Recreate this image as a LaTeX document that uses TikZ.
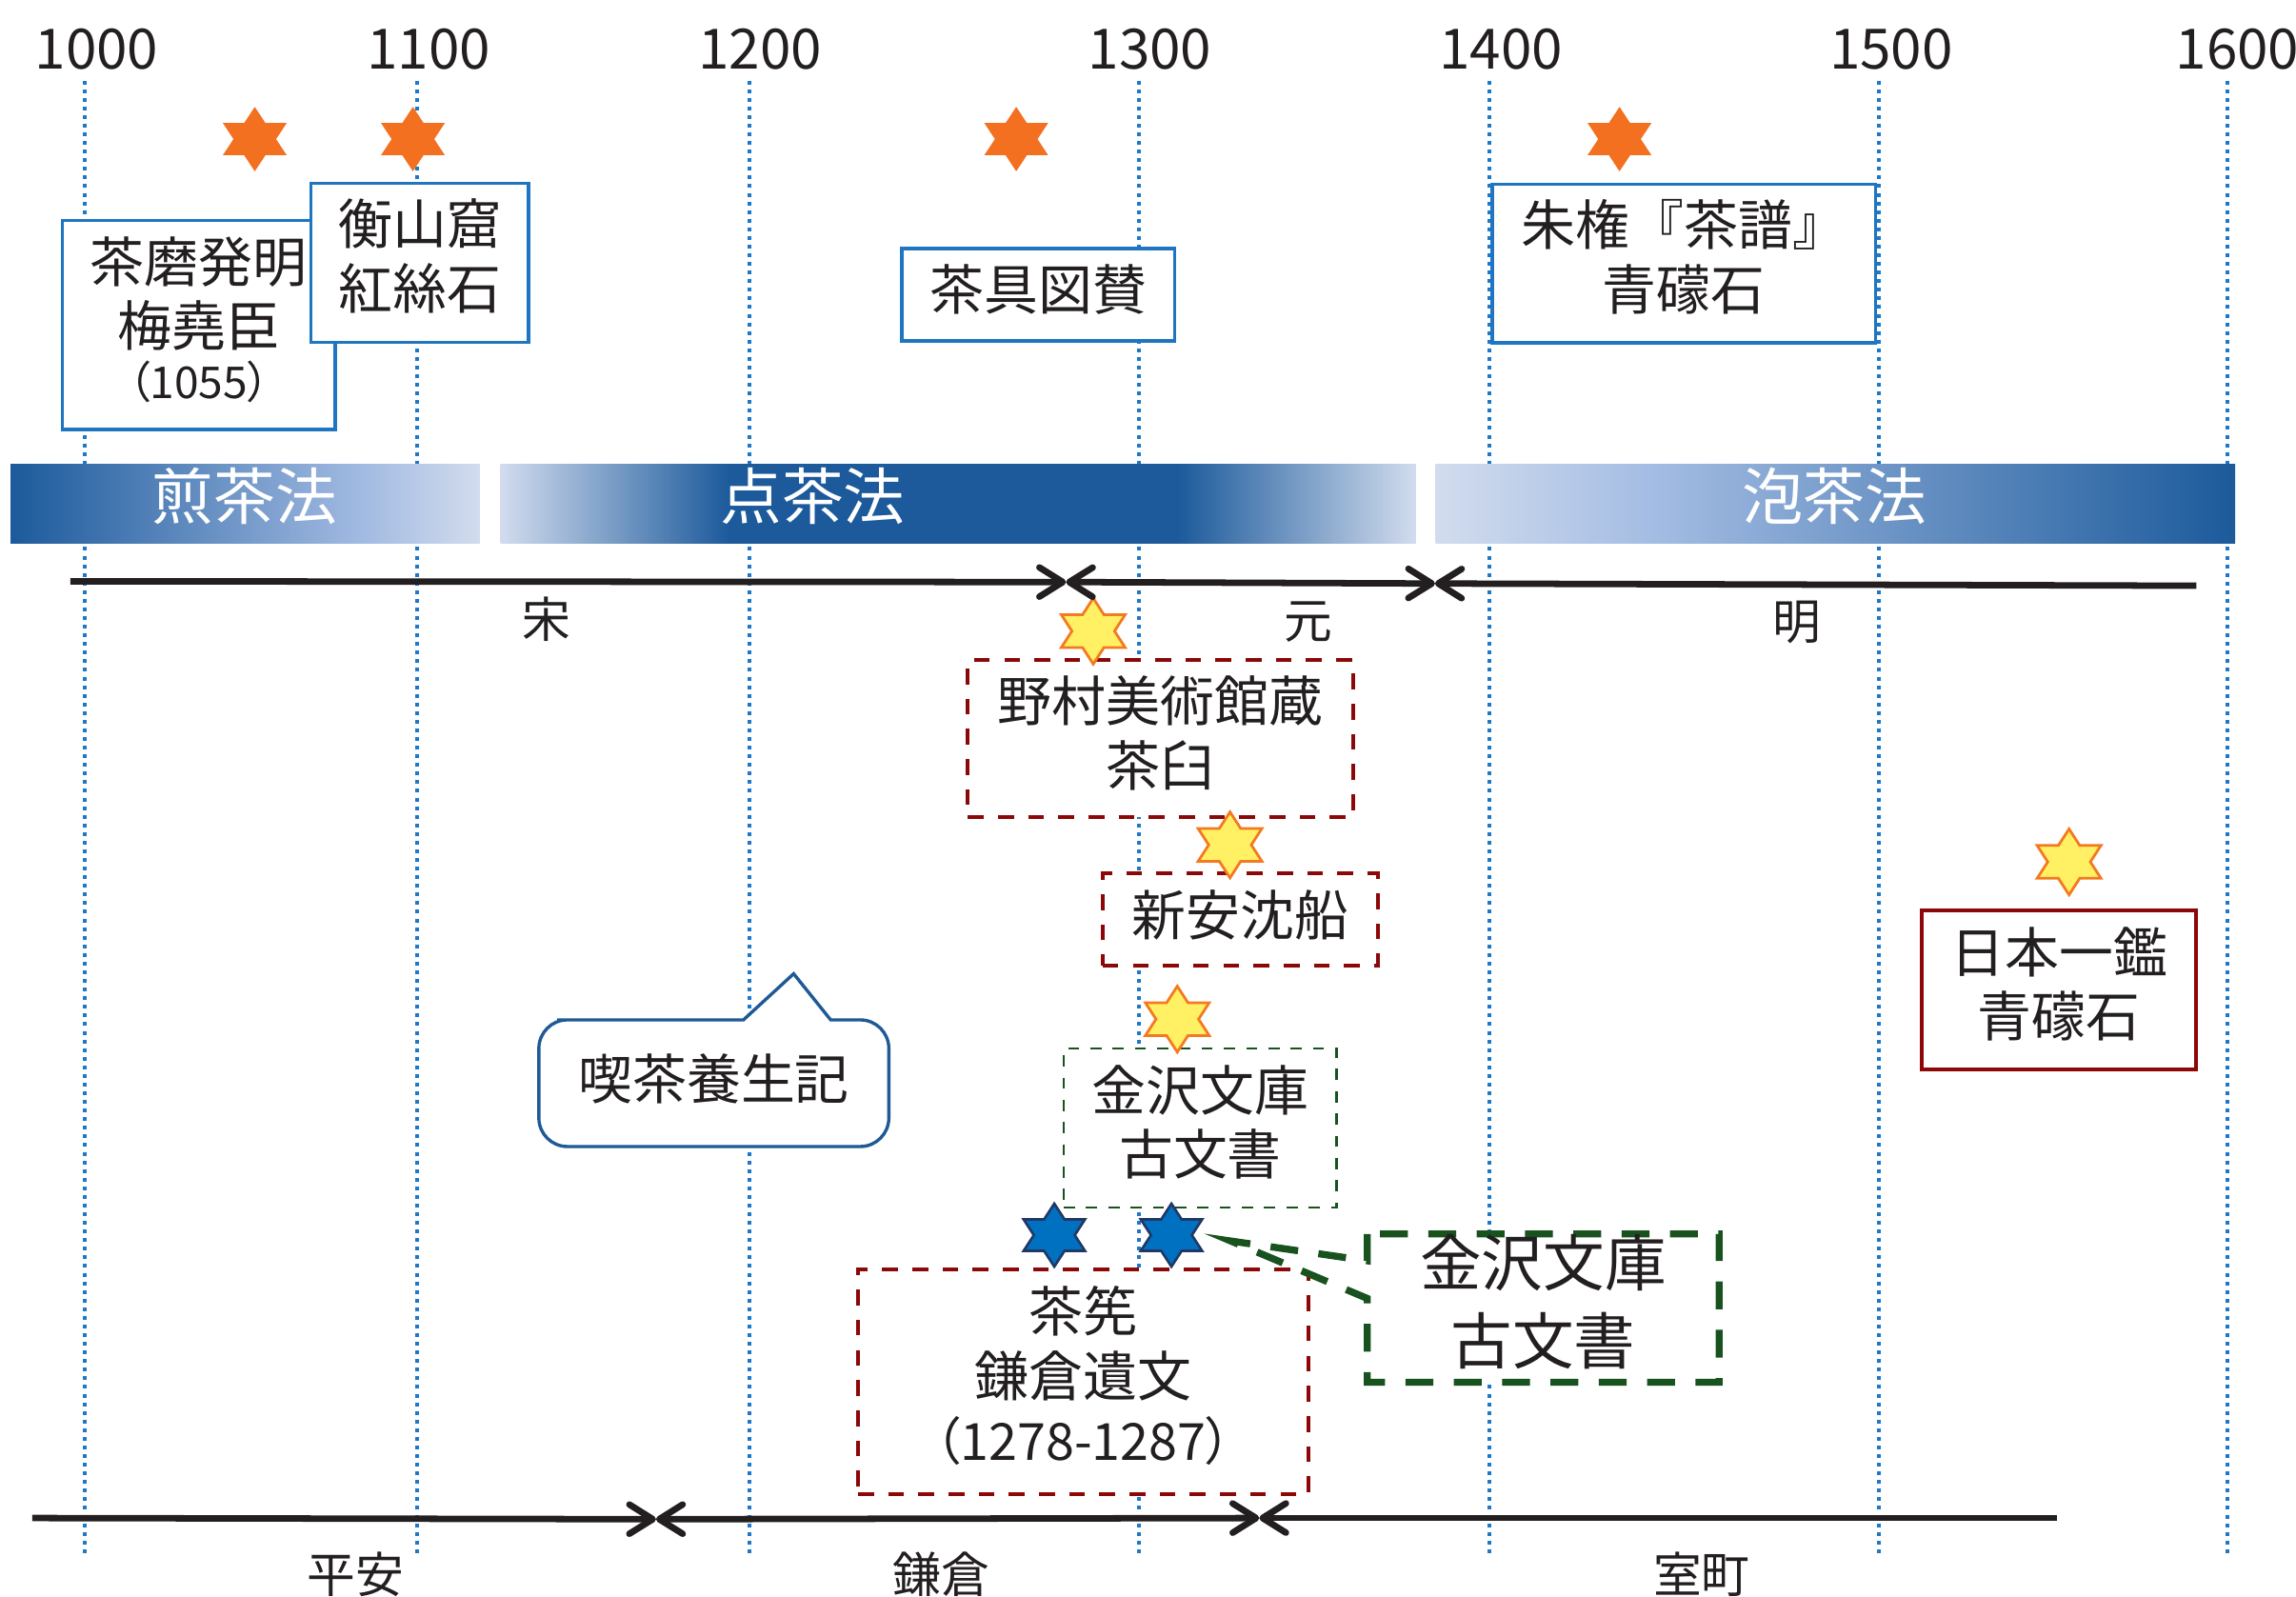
\documentclass[tikz,border=0pt]{standalone}
\usepackage{fontspec}
\setmainfont{Noto Sans CJK JP}
\newfontfamily\jpp[RawFeature={+palt}]{Noto Sans CJK JP}
\usetikzlibrary{arrows.meta}

\definecolor{txt}{RGB}{35,31,32}
\definecolor{gridblue}{RGB}{30,120,200}
\definecolor{boxblue}{RGB}{31,117,192}
\definecolor{callblue}{RGB}{31,90,150}
\definecolor{darkred}{RGB}{140,8,8}
\definecolor{dgreen}{RGB}{24,82,30}
\definecolor{starorange}{RGB}{243,112,33}
\definecolor{staryellow}{RGB}{255,240,100}
\definecolor{staredge}{RGB}{244,121,32}
\definecolor{starblue}{RGB}{0,112,192}
\definecolor{starnavy}{RGB}{32,56,100}
\definecolor{bdark}{RGB}{28,90,155}
\definecolor{bpale}{RGB}{210,220,238}
\definecolor{bmid}{RGB}{160,185,225}
\definecolor{bmidc}{RGB}{166,190,228}

\pgfdeclarehorizontalshading{barA}{100bp}{color(0bp)=(bdark); color(25bp)=(bdark); color(62bp)=(bmid); color(75bp)=(bpale); color(100bp)=(bpale)}
\pgfdeclarehorizontalshading{barB}{100bp}{color(0bp)=(bpale); color(25bp)=(bpale); color(37.5bp)=(bdark); color(62bp)=(bdark); color(75bp)=(bpale); color(100bp)=(bpale)}
\pgfdeclarehorizontalshading{barC}{100bp}{color(0bp)=(bpale); color(25bp)=(bpale); color(38bp)=(bmidc); color(75bp)=(bdark); color(100bp)=(bdark)}

\tikzset{
  hexstar/.pic={\path[pic actions] (90:1) -- (60:0.57735) -- (30:1) -- (0:0.57735) -- (-30:1) -- (-60:0.57735) -- (-90:1) -- (-120:0.57735) -- (-150:1) -- (180:0.57735) -- (150:1) -- (120:0.57735) -- cycle;},
  ostar/.style={fill=starorange, xscale=25.2, yscale=22},
  ystar/.style={fill=staryellow, draw=staredge, line width=1.8, xscale=25.2, yscale=22.5},
  bstar/.style={fill=starblue, draw=starnavy, line width=1.7, xscale=24.2, yscale=21.5},
  gridline/.style={draw=gridblue, line width=2.6, dash pattern=on 2.6pt off 3.3pt},
  yearlbl/.style={text=txt, font=\fontsize{38}{44}\selectfont, inner sep=0},
  bartxt/.style={text=white, font=\fontsize{42}{50}\selectfont, inner sep=0},
  eralbl/.style={text=txt, font=\fontsize{33}{40}\selectfont, inner sep=0},
  boxtxt/.style={text=txt, align=center, font=\fontsize{37}{44}\selectfont, inner sep=0},
  bluebox/.style={draw=boxblue, line width=2.2, fill=white, inner sep=0},
  redbox/.style={draw=darkred, line width=2.6, dash pattern=on 10.8pt off 9.8pt, fill=white, inner sep=0},
  redsolid/.style={draw=darkred, line width=2.4, fill=white, inner sep=0},
  greenthin/.style={draw=dgreen, line width=1.8, dash pattern=on 7.6pt off 7.6pt, fill=white, inner sep=0},
  greenthick/.style={draw=dgreen, line width=4.8, dash pattern=on 19pt off 14pt, fill=white},
  callout/.style={draw=callblue, line width=2.2, fill=white},
  tip/.tip={Straight Barb[length=16pt,width=20pt,line width=4.4pt,round]},
  tl/.style={draw=txt, line width=4.4pt},
}

\begin{document}
\begin{tikzpicture}[x=1pt,y=-1pt]
\useasboundingbox (0,0) rectangle (1568,1090);
\clip (0,0) rectangle (1568,1090);

% vertical dotted year lines
\foreach \gx in {58.2,285,511.6,777.8,1017.2,1283.4,1521.3}
  \draw[gridline] (\gx,55) -- (\gx,1062);

% year labels
\node[yearlbl] (y1000) at (66,33.6) {1000};
\node[yearlbl] (y1100) at (292.8,33.6) {1100};
\node[yearlbl] (y1200) at (519,33.6) {1200};
\node[yearlbl] (y1300) at (785.3,33.6) {1300};
\node[yearlbl] (y1400) at (1025,33.6) {1400};
\node[yearlbl] (y1500) at (1291.5,33.6) {1500};
\node[yearlbl] (y1600) at (1528,33.6) {1600};

% method bars
\shade[shading=barA] (7.3,317) rectangle (327.7,371);
\shade[shading=barB] (341.8,317) rectangle (967,371);
\shade[shading=barC] (980.4,317) rectangle (1526.5,371);
\node[bartxt] (sencha) at (167,338.8) {煎茶法};
\node[bartxt] (tencha) at (555,338.8) {点茶法};
\node[bartxt] (houcha) at (1252.5,338.8) {泡茶法};

% blue boxes (top)
\node[bluebox, minimum width=186.5, minimum height=142.8] (A) at (135.75,221.8) {};
\node[boxtxt] (Atxt) at ([yshift=3.5]A.center) {茶磨発明\\梅堯臣\\[-8.5pt]{\fontsize{30}{36}\selectfont\jpp（1055）}};
\node[bluebox, minimum width=148.7, minimum height=108.6] (B) at (286.65,179.3) {};
\node[boxtxt] (Btxt) at ([yshift=4.5]B.center) {衡山窟\\紅絲石};
\node[bluebox, minimum width=186.4, minimum height=63] (C) at (709,201.3) {};
\node[boxtxt] (Ctxt) at ([yshift=3.5]C.center) {茶具図賛};
\node[bluebox, minimum width=262, minimum height=108.3] (D) at (1150,179.85) {};
\node[boxtxt] (Dtxt) at ([yshift=4.5]D.center) {朱権『茶譜』\\青礞石};

% orange stars
\pic[ostar] at (174,95) {hexstar};
\pic[ostar] at (282,95) {hexstar};
\pic[ostar] at (694,95) {hexstar};
\pic[ostar] at (1106,95) {hexstar};

% red dashed boxes
\node[redbox, minimum width=263, minimum height=107] (E) at (792.5,504.5) {};
\node[boxtxt] (Etxt) at ([yshift=4]E.center) {野村美術館蔵\\茶臼};
\node[redbox, minimum width=188, minimum height=63] (F) at (847,628) {};
\node[boxtxt] (Ftxt) at ([yshift=3]F.center) {新安沈船};
\node[redsolid, minimum width=187.2, minimum height=108.6] (H) at (1406.2,676.1) {};
\node[boxtxt] (Htxt) at ([yshift=4]H.center) {日本一鑑\\青礞石};

% green thin box
\node[greenthin, minimum width=186.5, minimum height=108.7] (I) at (819.75,770.35) {};
\node[boxtxt] (Itxt) at ([yshift=4]I.center) {金沢文庫\\古文書};

% red dashed box G
\node[redbox, minimum width=307.5, minimum height=153.8] (G) at (739.75,943.6) {};
\node[boxtxt] (Gtxt) at ([yshift=4]G.center) {茶筅\\鎌倉遺文\\{\fontsize{35}{44}\selectfont\jpp（1278-1287）}};

% callout 喫茶養生記
\draw[callout] (368,740) [rounded corners=19.5] -- (368,696.5) -- (400,696.5) [sharp corners] -- (507.7,696.5) -- (542,665) -- (567.3,696.5) -- (580,696.5) [rounded corners=19.5] -- (607,696.5) -- (607,783) -- (368,783) -- cycle;
\node[boxtxt] (kissa) at (487.5,737) {喫茶養生記};

% green thick callout J
\coordinate (Jtl) at (933.7,842.7);
\coordinate (Jtr) at (1174,842.7);
\coordinate (Jbr) at (1174,944);
\coordinate (Jbl) at (933.7,944);
\coordinate (Jp1) at (933.7,861);
\coordinate (Jtip) at (840.5,847.5);
\coordinate (Jp2) at (933.7,886.7);
\draw[greenthick] (Jtl) -- (Jp1) -- (Jtip) -- (Jp2) -- (Jbl) -- (Jbr) -- (Jtr) -- cycle;
\node[boxtxt, font=\fontsize{42}{53}\selectfont] (Jtxt) at (1053.85,889) {金沢文庫\\古文書};

% yellow stars
\pic[ystar] at (746.6,431) {hexstar};
\pic[ystar] at (840,577) {hexstar};
\pic[ystar] at (804,696) {hexstar};
\pic[ystar] at (1413,588.6) {hexstar};

% blue stars
\pic[bstar] at (720,843.5) {hexstar};
\pic[bstar] at (800,843.5) {hexstar};

% upper timeline
\coordinate (u0) at (48,397);
\coordinate (u1) at (728,397.5);
\coordinate (u2) at (980,398.5);
\coordinate (u3) at (1500,400);
\draw[tl, -tip] (u0) -- (u1);
\draw[tl, tip-tip] (u1) -- (u2);
\draw[tl, tip-] (u2) -- (u3);
\node[eralbl] (song) at (373,423) {宋};
\node[eralbl] (yuan) at (893.8,424.6) {元};
\node[eralbl] (ming) at (1227,425) {明};

% lower timeline
\coordinate (l0) at (22,1036.7);
\coordinate (l1) at (448,1037.5);
\coordinate (l2) at (860,1036.7);
\coordinate (l3) at (1405,1036.7);
\draw[tl, -tip] (l0) -- (l1);
\draw[tl, tip-tip] (l1) -- (l2);
\draw[tl, tip-] (l2) -- (l3);
\node[eralbl] (heian) at (243,1075) {平安};
\node[eralbl] (kamakura) at (643,1075) {鎌倉};
\node[eralbl] (muromachi) at (1162,1075) {室町};
\end{tikzpicture}
\end{document}
